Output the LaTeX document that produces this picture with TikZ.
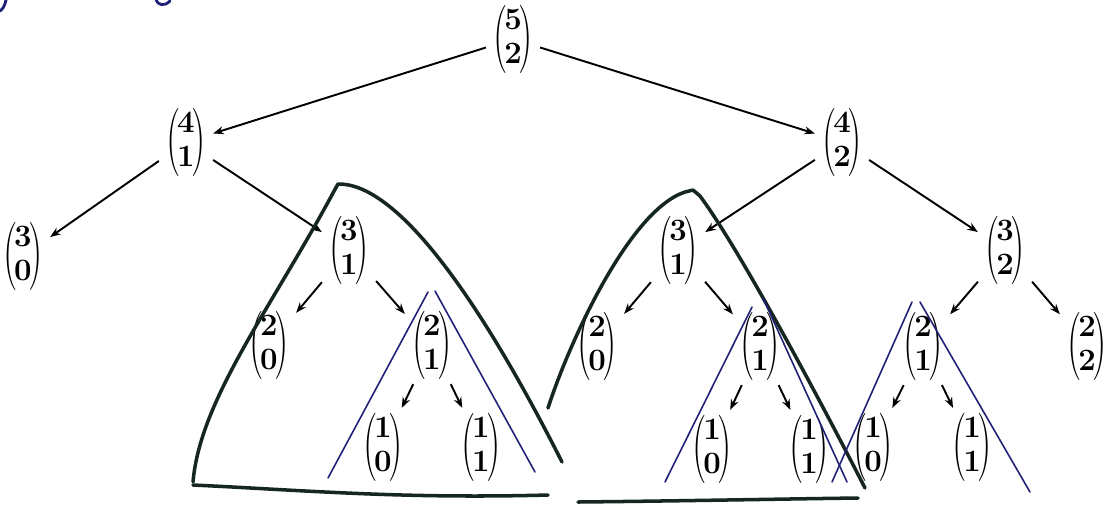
\documentclass[tikz,border=0pt]{standalone}
\usepackage{amsmath}
\usepackage{amssymb}
\usepackage{graphicx}
\usepackage{tikz}
\usetikzlibrary{arrows.meta}

\definecolor{penblack}{RGB}{22,38,32}
\definecolor{penblue}{RGB}{32,32,120}
\newcommand{\tallparen}[1]{\vcenter{\hbox{\scalebox{1.3}[2.2]{#1}}}}
\newcommand{\bico}[2]{\scalebox{1.18}{$\tallparen{(}\mkern-2mu
  \vcenter{\hbox{\begin{tabular}{@{}c@{}}\textbf{#1}\\[-2pt]\textbf{#2}\end{tabular}}}%
  \mkern-2mu\tallparen{)}$}}

\begin{document}
\begin{tikzpicture}[x=0.02cm, y=-0.02cm,
    bn/.style={inner xsep=4pt, inner ysep=2pt, font=\fontsize{15}{18}\selectfont},
    arr/.style={-{Stealth[length=6pt,width=4.5pt]}, line width=1.1pt},
    marker/.style={penblack, line width=2pt, line cap=round, line join=round},
    subtree/.style={penblue, line width=0.9pt, line cap=round}]
  \useasboundingbox (0,0) rectangle (1106,505);

  % Binomial coefficients
  \foreach \n/\x/\y/\a/\b in {
    n52/513/39/5/2,
    n41/186/142/4/1,   n42/842/142/4/2,
    n30/23/256/3/0,    n31a/349/250/3/1,  n31b/678/250/3/1,  n32/1005/250/3/2,
    n20a/269/345/2/0,  n21a/432/345/2/1,
    n20b/597/346/2/0,  n21b/760/346/2/1,
    n21c/923/346/2/1,  n22/1087/346/2/2,
    n10a/383/447/1/0,  n11a/481/447/1/1,
    n10b/712/449/1/0,  n11b/809/449/1/1,
    n10c/873/447/1/0,  n11c/972/447/1/1}
    \node[bn] (\n) at (\x,\y) {\bico{\a}{\b}};

  % Recursion arrows
  \foreach \s/\t in {
    n52/n41, n52/n42,
    n41/n30, n41/n31a, n42/n31b, n42/n32,
    n31a/n20a, n31a/n21a, n31b/n20b, n31b/n21b, n32/n21c, n32/n22,
    n21a/n10a, n21a/n11a, n21b/n10b, n21b/n11b, n21c/n10c, n21c/n11c}
    \draw[arr] (\s) -- (\t);

  % Repeated subtrees (black)
  \draw[marker] (193,482) .. controls (200,400) and (270,310) .. (333,193)
    -- (338,184) .. controls (395,183) and (475,290) .. (562,462);
  \draw[marker] (193,485) .. controls (300,490) and (400,499) .. (548,495);
  \draw[marker] (548,408) .. controls (570,340) and (630,210) .. (685,192)
    -- (693,190) -- (700,196) .. controls (740,250) and (820,400) .. (865,488);
  \draw[marker] (578,502) .. controls (680,501) and (780,499) .. (858,498);

  % Repeated subtrees (blue)
  \draw[subtree] (428,292) -- (328,478);
  \draw[subtree] (435,291) -- (535,472);
  \draw[subtree] (752,307) -- (665,482);
  \draw[subtree] (763,298) -- (847,482);
  \draw[subtree] (912,302) -- (832,482);
  \draw[subtree] (920,302) -- (1030,492);

  % Cut-off handwriting at the top edge
  \draw[penblue, line width=1.6pt, line cap=round] (6,0) .. controls (5,5) and (3,9) .. (0,11);
  \draw[penblue, line width=1.6pt, line cap=round] (156,0) .. controls (158,5) and (164,7) .. (170,1);
\end{tikzpicture}
\end{document}
